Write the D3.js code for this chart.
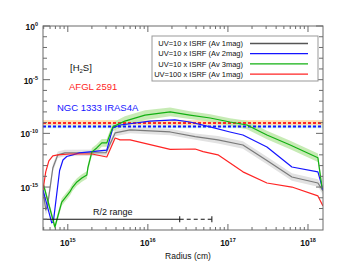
<!DOCTYPE html>
<html>
<head>
<meta charset="utf-8">
<script src="https://cdn.jsdelivr.net/npm/d3@7"></script>
<style>
  body { margin: 0; background: #fff; }
  text { font-family: "Liberation Sans", Arial, sans-serif; }
</style>
</head>
<body>
<div id="chart"></div>
<script>
// radius (cm) and H2S abundance
const grayR = [4.9e14, 5.3e14, 5.6e14, 6.5e14, 7.5e14, 9.2e14, 3.0e15, 3.9e15, 6.0e15, 1.9e16, 3.9e16, 7.5e16, 1.54e17, 3.07e17, 6.3e17, 1.33e18, 1.54e18];
const grayX = [5.4e-16, 7.4e-18, 2.1e-17, 6e-14, 1e-12, 1.5e-12, 1.6e-12, 1.1e-10, 2.1e-10, 1.35e-10, 5e-11, 2.5e-11, 8.3e-12, 2.9e-13, 8.7e-15, 2.4e-15, 4.3e-16];
const grayErr = [0.45, 0.5, 0.5, 0.35, 0.3, 0.3, 0.3, 0.3, 0.3, 0.3, 0.3, 0.35, 0.35, 0.35, 0.35, 0.35, 0.35];

const blueR = [4.9e14, 6.3e14, 6.6e14, 7.9e14, 8.7e14, 9.7e14, 1.15e15, 1.4e15, 3.07e15, 3.65e15, 4.5e15, 1.06e16, 2.17e16, 3.35e16, 6.0e16, 1.06e17, 1.54e17, 3.07e17, 6.3e17, 1.33e18, 1.54e18];
const blueX = [5.4e-16, 4.6e-19, 6e-19, 3.5e-14, 3.3e-13, 7e-13, 1e-12, 1.5e-12, 2.8e-12, 3.2e-10, 6e-10, 1.4e-9, 1.8e-9, 1.15e-9, 4e-10, 1.35e-10, 7e-11, 5.4e-12, 7.4e-14, 2.6e-14, 5.4e-16];

const greenR = [5.0e14, 6.9e14, 8.4e14, 1.06e15, 1.15e15, 1.3e15, 1.5e15, 1.73e15, 1.78e15, 2.0e15, 2.3e15, 2.66e15, 3.07e15, 3.65e15, 5.16e15, 9.2e15, 1.9e16, 3.35e16, 6.0e16, 1.06e17, 1.73e17, 3.07e17, 6.0e17, 1.33e18, 1.5e18];
const greenX = [1.4e-15, 1.9e-19, 4e-17, 3.5e-16, 1e-15, 3e-15, 7e-15, 1.35e-14, 6e-14, 1.9e-12, 4.4e-12, 1.3e-11, 1.3e-11, 4e-10, 1.4e-9, 5e-9, 1e-8, 5e-9, 2.7e-9, 1.15e-9, 6e-10, 7e-11, 8.3e-12, 5.3e-13, 8e-16];
const greenErr = [0.3, 0.3, 0.35, 0.35, 0.35, 0.35, 0.35, 0.35, 0.35, 0.35, 0.35, 0.35, 0.35, 0.4, 0.45, 0.45, 0.4, 0.35, 0.35, 0.35, 0.4, 0.4, 0.4, 0.4, 0.4];

const redR = [4.9e14, 5.3e14, 5.8e14, 6.5e14, 7.5e14, 1.06e15, 2.0e15, 3.07e15, 3.9e15, 4.5e15, 6.0e15, 1.9e16, 3.9e16, 4.9e16, 7.5e16, 1.54e17, 3.07e17, 6.3e17, 1.33e18, 1.54e18];
const redX = [5.4e-16, 2.6e-14, 2.7e-13, 8e-13, 1e-12, 1.2e-12, 1.2e-12, 6.3e-13, 3.7e-11, 2.5e-11, 2.5e-11, 3.2e-12, 3.5e-12, 2e-12, 1e-12, 2.6e-14, 2.4e-15, 1e-15, 1.5e-16, 1.7e-17];

// observed abundances (value, low, high)
const obsNames = ["AFGL 2591", "NGC 1333 IRAS4A"];
const obsValue = [9e-10, 4.3e-10];
const obsLow = [5.6e-10, 3e-10];
const obsHigh = [1.7e-9, 5.6e-10];

// R/2 range: start, midpoint marker, end
const rHalf = [4.9e14, 2.5e16, 6.3e16];
const rHalfY = 1e-18;

const legendLabels = ["UV=10 x ISRF (Av 1mag)", "UV=10 x ISRF (Av 2mag)", "UV=10 x ISRF (Av 3mag)", "UV=100 x ISRF (Av 1mag)"];
const xMajor = [1e15, 1e16, 1e17, 1e18];
const yMajor = [1e0, 1e-5, 1e-10, 1e-15];

const width = 350, height = 263;
const margin = { top: 26, right: 27, bottom: 33, left: 43 };
const W = width - margin.left - margin.right;
const H = height - margin.top - margin.bottom;

const colors = ["#7a7a7a", "#1414ff", "#12b012", "#ff2424"];
const legendColors = ["#555555", "#1414ff", "#12b012", "#ff2424"];

const x = d3.scaleLog().domain([4.9e14, 1.54e18]).range([0, W]);
const y = d3.scaleLog().domain([1e-19, 1]).range([H, 0]);

const svg = d3.select("#chart").append("svg")
  .attr("width", width).attr("height", height);

const g = svg.append("g").attr("transform", `translate(${margin.left},${margin.top})`);

const defs = svg.append("defs");
defs.append("clipPath").attr("id", "clip").append("rect").attr("width", W).attr("height", H);

const plot = g.append("g").attr("clip-path", "url(#clip)");

// observation bands
plot.append("rect")
  .attr("x", 0).attr("width", W)
  .attr("y", y(obsHigh[0])).attr("height", y(obsLow[0]) - y(obsHigh[0]))
  .attr("fill", "#fbd9a6").attr("opacity", 0.85);
plot.append("rect")
  .attr("x", 0).attr("width", W)
  .attr("y", y(obsHigh[1])).attr("height", y(obsLow[1]) - y(obsHigh[1]))
  .attr("fill", "#c8f3ec").attr("opacity", 0.8);

// model uncertainty bands
const band = (R, X, E) => d3.area()
  .x((d, i) => x(R[i]))
  .y0((d, i) => y(X[i] / Math.pow(10, E[i])))
  .y1((d, i) => y(Math.min(X[i] * Math.pow(10, E[i]), 1))) (R);

plot.append("path").attr("d", band(grayR, grayX, grayErr)).attr("fill", "#e2e2e2");
plot.append("path").attr("d", band(greenR, greenX, greenErr)).attr("fill", "#bde8a8").attr("opacity", 0.85);

// dashed observation lines
obsValue.forEach((v, i) => {
  plot.append("line")
    .attr("x1", 0).attr("x2", W)
    .attr("y1", y(v)).attr("y2", y(v))
    .attr("stroke", i === 0 ? "#ff2424" : "#1414ff")
    .attr("stroke-width", 2)
    .attr("stroke-dasharray", "3,2");
});

// model lines
const line = (R, X) => d3.line().x((d, i) => x(R[i])).y((d, i) => y(X[i]))(R);
[[grayR, grayX], [blueR, blueX], [greenR, greenX], [redR, redX]].forEach((s, i) => {
  plot.append("path")
    .attr("d", line(s[0], s[1]))
    .attr("fill", "none")
    .attr("stroke", colors[i])
    .attr("stroke-width", 1.2)
    .attr("stroke-linejoin", "round");
});

// R/2 range
plot.append("line")
  .attr("x1", x(rHalf[0])).attr("x2", x(rHalf[1]))
  .attr("y1", y(rHalfY)).attr("y2", y(rHalfY))
  .attr("stroke", "#111").attr("stroke-width", 1);
plot.append("line")
  .attr("x1", x(rHalf[1])).attr("x2", x(rHalf[2]))
  .attr("y1", y(rHalfY)).attr("y2", y(rHalfY))
  .attr("stroke", "#111").attr("stroke-width", 1)
  .attr("stroke-dasharray", "4,3");
[rHalf[1], rHalf[2]].forEach(r => {
  plot.append("line")
    .attr("x1", x(r)).attr("x2", x(r))
    .attr("y1", y(rHalfY) - 3).attr("y2", y(rHalfY) + 3)
    .attr("stroke", "#111").attr("stroke-width", 1);
});
g.append("text")
  .attr("x", 50).attr("y", y(rHalfY) - 4)
  .style("font-size", "9px").attr("fill", "#111")
  .text("R/2 range");

// frame and ticks
const axisColor = "#6a6a6a";
g.append("rect").attr("width", W).attr("height", H)
  .attr("fill", "none").attr("stroke", axisColor).attr("stroke-width", 1);

const xMinor = [];
[14, 15, 16, 17, 18].forEach(e => {
  for (let k = 2; k <= 9; k++) {
    const v = k * Math.pow(10, e);
    if (v > 4.9e14 && v < 1.54e18) xMinor.push(v);
  }
});
const yMinor = d3.range(-18, 0).map(e => Math.pow(10, e)).filter(v => !yMajor.includes(v));

const ticks = g.append("g").attr("stroke", axisColor).attr("stroke-width", 1);
xMinor.forEach(v => {
  ticks.append("line").attr("x1", x(v)).attr("x2", x(v)).attr("y1", H).attr("y2", H - 3);
  ticks.append("line").attr("x1", x(v)).attr("x2", x(v)).attr("y1", 0).attr("y2", 3);
});
xMajor.forEach(v => {
  ticks.append("line").attr("x1", x(v)).attr("x2", x(v)).attr("y1", H).attr("y2", H - 6);
  ticks.append("line").attr("x1", x(v)).attr("x2", x(v)).attr("y1", 0).attr("y2", 6);
});
yMinor.forEach(v => {
  ticks.append("line").attr("x1", 0).attr("x2", 4).attr("y1", y(v)).attr("y2", y(v));
  ticks.append("line").attr("x1", W).attr("x2", W - 4).attr("y1", y(v)).attr("y2", y(v));
});
yMajor.forEach(v => {
  ticks.append("line").attr("x1", 0).attr("x2", 7).attr("y1", y(v)).attr("y2", y(v));
  ticks.append("line").attr("x1", W).attr("x2", W - 7).attr("y1", y(v)).attr("y2", y(v));
});

// tick labels
xMajor.forEach(v => {
  const t = g.append("text")
    .attr("x", x(v)).attr("y", H + 16)
    .attr("text-anchor", "middle")
    .style("font-size", "8.5px").style("font-weight", "bold").attr("fill", "#111");
  t.append("tspan").text("10");
  t.append("tspan").attr("dy", -4).style("font-size", "5.5px").text(Math.round(Math.log10(v)));
});
yMajor.forEach(v => {
  const t = g.append("text")
    .attr("x", -5).attr("y", y(v) + 4)
    .attr("text-anchor", "end")
    .style("font-size", "8.5px").style("font-weight", "bold").attr("fill", "#111");
  t.append("tspan").text("10");
  t.append("tspan").attr("dy", -4).style("font-size", "5.5px").text(Math.round(Math.log10(v)));
});

// axis title
svg.append("text")
  .attr("x", 188).attr("y", 259)
  .attr("text-anchor", "middle")
  .style("font-size", "8.5px").attr("fill", "#111")
  .text("Radius (cm)");

// annotations
const h2s = svg.append("text").attr("x", 70).attr("y", 71)
  .style("font-size", "9.5px").attr("fill", "#111");
h2s.append("tspan").text("[H");
h2s.append("tspan").attr("dy", 2).style("font-size", "6px").text("2");
h2s.append("tspan").attr("dy", -2).text("S]");

svg.append("text").attr("x", 69).attr("y", 90)
  .style("font-size", "9.5px").attr("fill", "#ff2424").text(obsNames[0]);
svg.append("text").attr("x", 57).attr("y", 111)
  .style("font-size", "9.5px").attr("fill", "#1414ff").text(obsNames[1]);

// legend
const legend = svg.append("g");
legend.append("rect")
  .attr("x", 152).attr("y", 36).attr("width", 166).attr("height", 45)
  .attr("fill", "#fff").attr("stroke", "#999").attr("stroke-width", 1);
legendLabels.forEach((d, i) => {
  const yy = 43.5 + i * 10.2;
  legend.append("text")
    .attr("x", 243).attr("y", yy + 2.7)
    .attr("text-anchor", "end")
    .style("font-size", "7.5px").attr("fill", "#111")
    .text(d);
  legend.append("line")
    .attr("x1", 250).attr("x2", 308)
    .attr("y1", yy).attr("y2", yy)
    .attr("stroke", legendColors[i]).attr("stroke-width", 1.3);
});
</script>
</body>
</html>
